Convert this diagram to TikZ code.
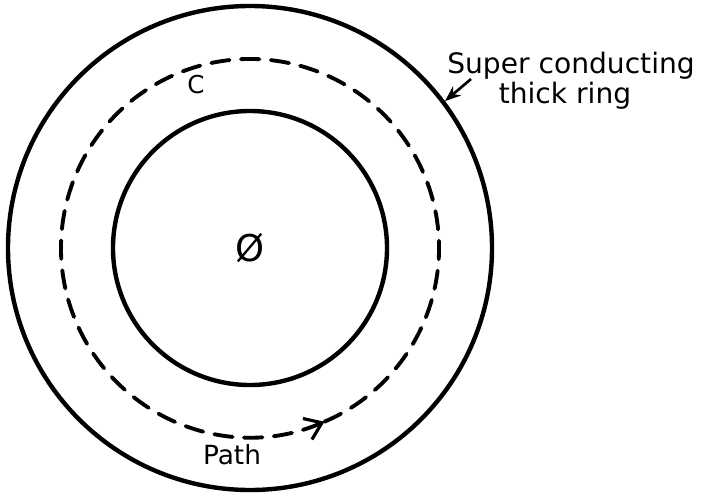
\documentclass[tikz,border=0pt]{standalone}
\usepackage{fontspec}
\setmainfont{DejaVu Sans}
\usetikzlibrary{arrows.meta}

\begin{document}
\begin{tikzpicture}[>=Stealth,
  ring/.style={draw, circle, line width=2.5pt, inner sep=0pt},
  path/.style={line width=2.2pt, line cap=round, dash pattern=on 10.5pt off 6.5pt},
  lbl/.style={font=\fontsize{16}{17}\selectfont, inner sep=0pt},
  sym/.style={font=\fontsize{14}{16}\selectfont, inner sep=0pt}]
  \useasboundingbox (0,0) rectangle (14.04,-9.9);
  \coordinate (o) at (5.0,-4.96);
  \node[ring, minimum size=9.68cm] (outer) at (o) {};
  \node[ring, minimum size=5.48cm] (inner) at (o) {};
  \draw[path, -{Straight Barb[length=9pt, width=13pt, line width=1.8pt]}]
    (o) ++(-66.8:3.78) arc[start angle=-66.8, end angle=293.2, radius=3.78];
  \node[sym, font=\fontsize{21}{24}\selectfont] (phi) at (o) {Ø};
  \node[sym] (c) at (3.92,-1.70) {C};
  \node[sym, font=\fontsize{15}{17}\selectfont] (pth) at (4.64,-9.1) {Path};
  \node[lbl, anchor=base] (sup) at (11.42,-1.46) {Super conducting};
  \node[lbl, anchor=base] (thk) at (11.3,-2.06) {thick ring};
  \coordinate (tail) at (9.42,-1.58);
  \draw[-{Stealth[length=9pt, width=7pt]}, line width=1.5pt] (tail) -- (outer.37.6);
\end{tikzpicture}
\end{document}
